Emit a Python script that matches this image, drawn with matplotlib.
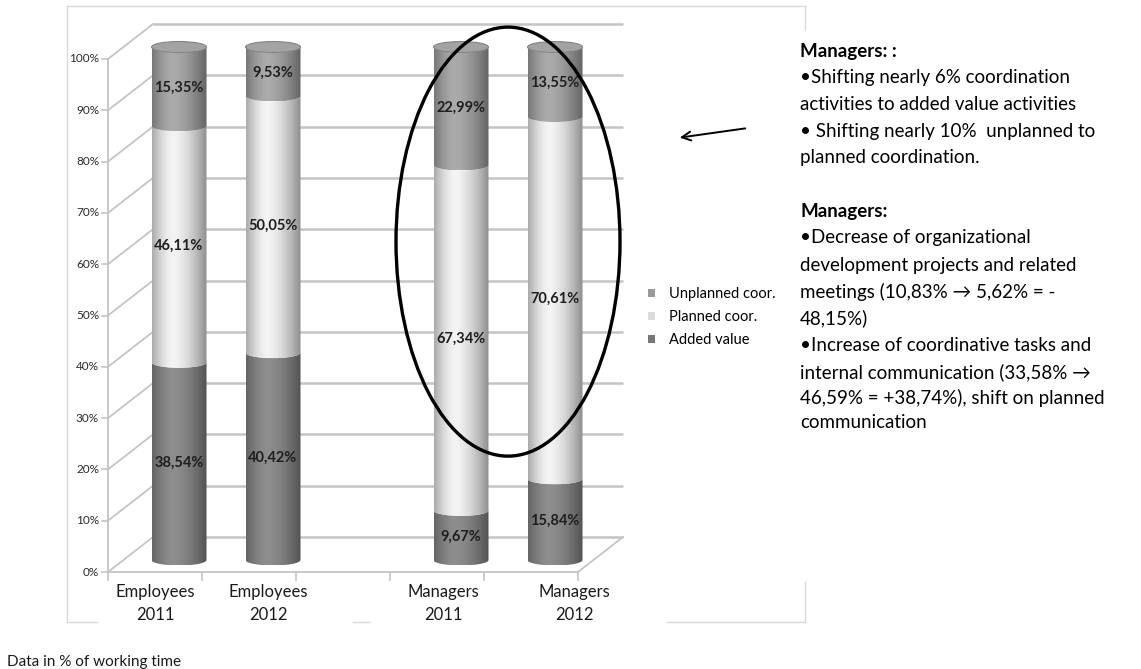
import numpy as np
import matplotlib
matplotlib.use('Agg')
import matplotlib.pyplot as plt
from matplotlib.patches import PathPatch, Ellipse, Patch
from matplotlib.path import Path
from matplotlib.lines import Line2D
from matplotlib.colors import to_rgb

plt.rcParams['font.family'] = ['Lato', 'DejaVu Sans']

# data (share of working time, %)
categories = ['Employees\n2011', 'Employees\n2012', 'Managers\n2011', 'Managers\n2012']
added = [38.54, 40.42, 9.67, 15.84]
planned = [46.11, 50.05, 67.34, 70.61]
unplanned = [15.35, 9.53, 22.99, 13.55]
series_names = ['Added value', 'Planned coor.', 'Unplanned coor.']
yticks = list(range(0, 101, 10))

# layout
W, H = 1141, 669
slots = [0, 1, 3, 4]          # one empty slot between the groups
label_nudge = [0.0, 0.21, 0.07, 0.46]
SLOT = 94.0      # px per category slot
X0 = 108.0       # px of front left edge
VPX = 5.13       # px per percent
Y0 = 572.0       # px of front 0 %
dxb, dyb = 45 / SLOT, 35 / VPX     # back wall offset
dxc, dyc = 24 / SLOT, 12 / VPX     # cylinder offset
hw = 27.5 / SLOT                   # cylinder half width
eb = 5.5 / VPX                     # ellipse half height
colors = {'Added value': '#8e8e8e', 'Planned coor.': '#f4f4f4', 'Unplanned coor.': '#ababab'}
legend_colors = {'Added value': '#777777', 'Planned coor.': '#dcdcdc', 'Unplanned coor.': '#9a9a9a'}
grid_c = '#c4c4c4'

fig = plt.figure(figsize=(W / 100, H / 100), dpi=100)
ax = fig.add_axes([0, 0, 1, 1])
ax.axis('off')
xlim = (-0.5 - X0 / SLOT, -0.5 + (W - X0) / SLOT)
ylim = (-(H - Y0) / VPX, Y0 / VPX)


def fx(px):
    return px / W


def fy(py):
    return 1 - py / H


# panel border (partly hidden by the text boxes in the original)
for seg in [((67, 6), (805, 6)), ((67, 6), (67, 622)), ((67, 622), (97, 622)),
            ((353, 622), (370, 622)), ((667, 622), (805, 622)),
            ((805, 6), (805, 30)), ((805, 582), (805, 622))]:
    (xa, ya), (xb, yb) = seg
    fig.add_artist(Line2D([fx(xa), fx(xb)], [fy(ya), fy(yb)], transform=fig.transFigure,
                          color='#d9d9d9', lw=1))

# walls, floor and gridlines
left, right = -0.5, len(categories) + 0.5
for v in yticks:
    ax.plot([left + dxb, right + dxb], [v + dyb, v + dyb], color=grid_c, lw=1.8, zorder=1,
            solid_capstyle='butt')
    ax.plot([left, left + dxb], [v, v + dyb], color=grid_c, lw=1.3, zorder=1)
    ax.plot([left - 6 / SLOT, left], [v, v], color=grid_c, lw=1.2, zorder=1)
    ax.text(left - 9 / SLOT, v, f'{v}%', ha='right', va='center', fontsize=8.5, color='#2a2a2a')
ax.plot([left, left], [0, 100], color=grid_c, lw=1.3, zorder=1)
ax.plot([left, right], [0, 0], color=grid_c, lw=1.3, zorder=1)
ax.plot([right, right + dxb], [0, dyb], color=grid_c, lw=1.3, zorder=1)
for k in range(len(categories) + 2):
    ax.plot([left + k, left + k], [0, -8 / VPX], color=grid_c, lw=1.2, zorder=1)


def shade(base, n=80):
    t = np.linspace(0, 1, n)
    f = np.where(t > 0.38, 1 - 0.42 * ((t - 0.38) / 0.62) ** 1.6, 1 - 0.30 * ((0.38 - t) / 0.38) ** 1.6)
    rgb = np.array(to_rgb(base))
    return np.clip(rgb[None, None, :] * f[None, :, None], 0, 1)


def lower_arc(xc, yc, reverse=False):
    t = np.linspace(np.pi, 2 * np.pi, 40)
    pts = np.column_stack([xc + hw * np.cos(t), yc + eb * np.sin(t)])
    return pts[::-1] if reverse else pts


def cylinder_segment(xc, v0, v1, base, z):
    top = lower_arc(xc, v1 + dyc)
    bot = lower_arc(xc, v0 + dyc, reverse=True)
    verts = np.vstack([top, bot, top[:1]])
    codes = [Path.MOVETO] + [Path.LINETO] * (len(verts) - 2) + [Path.CLOSEPOLY]
    patch = PathPatch(Path(verts, codes), fc='none', ec='none', zorder=z)
    ax.add_patch(patch)
    im = ax.imshow(shade(base), extent=(xc - hw, xc + hw, v0 + dyc - eb, v1 + dyc),
                   aspect='auto', interpolation='bilinear', zorder=z)
    im.set_clip_path(patch)


fmt = lambda v: f'{v:.2f}'.replace('.', ',') + '%'

for i, s in enumerate(slots):
    xc = s + dxc
    stack = [added[i], planned[i], unplanned[i]]
    bottom = 0
    for name, val in zip(series_names, stack):
        cylinder_segment(xc, bottom, bottom + val, colors[name], 3)
        ax.text(xc, bottom + val / 2 + dyc - 0.3, fmt(val), ha='center', va='center',
                fontsize=10.5, fontweight='bold', color='#1e1e1e', zorder=6)
        bottom += val
    cap = Ellipse((xc, bottom + dyc), 2 * hw, 2 * eb, fc='#a3a3a3', ec='#858585', lw=0.8, zorder=4)
    ax.add_patch(cap)
    ax.text(s + label_nudge[i], -12 / VPX, categories[i], ha='center', va='top',
            fontsize=12, color='#1a1a1a', linespacing=1.5)

# highlight ring around the managers bars
mx = np.mean([slots[2], slots[3]]) + dxc
ax.add_patch(Ellipse((mx, 64.4), 224 / SLOT, 429 / VPX, fc='none', ec='black', lw=2.4, zorder=8))

ax.set_xlim(*xlim)
ax.set_ylim(*ylim)

# legend
handles = [Patch(fc=legend_colors[n], ec='none') for n in series_names[::-1]]
fig.legend(handles, series_names[::-1], loc='upper left', bbox_to_anchor=(fx(641), fy(280)),
           frameon=False, fontsize=10.5, handlelength=0.45, handleheight=0.45,
           handletextpad=1.0, labelspacing=0.6, borderpad=0)

# arrow
fig.add_artist(matplotlib.patches.FancyArrowPatch((fx(748), fy(128)), (fx(677), fy(138)),
                                                  transform=fig.transFigure, arrowstyle='->',
                                                  mutation_scale=16, lw=1.4, color='black'))

# commentary
notes = [
    ('Managers: :', 52, True),
    ('\u2022Shifting nearly 6% coordination', 78, False),
    ('activities to added value activities', 105, False),
    ('\u2022 Shifting nearly 10%  unplanned to', 132, False),
    ('planned coordination.', 158, False),
    ('Managers:', 212, True),
    ('\u2022Decrease of organizational', 238, False),
    ('development projects and related', 265, False),
    ('meetings (10,83% \u2192 5,62% = -', 292, False),
    ('48,15%)', 318, False),
    ('\u2022Increase of coordinative tasks and', 345, False),
    ('internal communication (33,58% \u2192', 372, False),
    ('46,59% = +38,74%), shift on planned', 398, False),
    ('communication', 423, False),
]
for txt, y, bold in notes:
    fig.text(fx(800), fy(y), txt, ha='left', va='center', fontsize=13.5,
             fontweight='bold' if bold else 'normal', color='black')

fig.text(fx(7), fy(662), 'Data in % of working time', ha='left', va='center', fontsize=11,
         color='#1a1a1a')

fig.savefig('out.png', dpi=100, facecolor='white')
